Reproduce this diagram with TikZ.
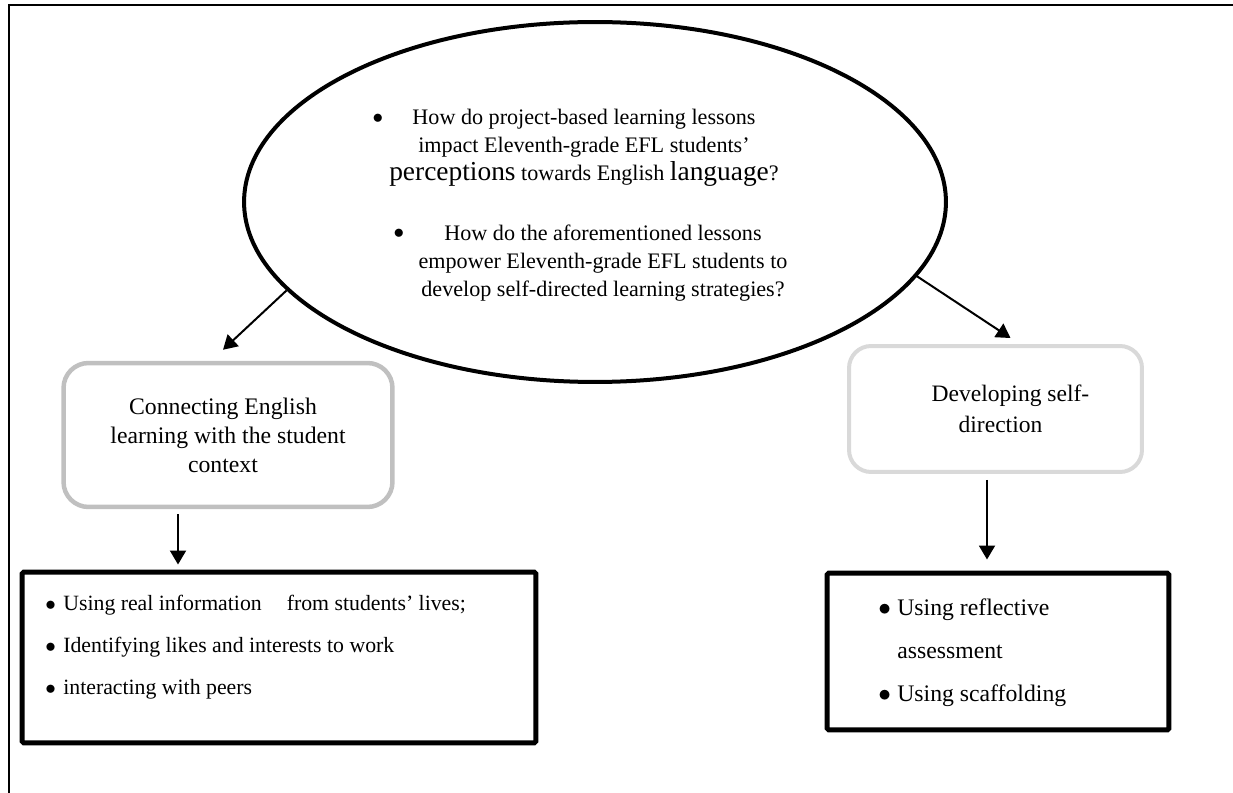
\documentclass[tikz,border=0pt]{standalone}
\usepackage{fontspec}
\setmainfont{Liberation Serif}
\usetikzlibrary{shapes.geometric,arrows.meta}
\definecolor{leftgray}{HTML}{C0C0C0}
\definecolor{rightgray}{HTML}{D9D9D9}
\newcommand{\listbullet}[1]{\makebox[#1][l]{$\bullet$}}

\begin{document}
\begin{tikzpicture}
        [x=0.02cm,y=-0.02cm,
        questiondecorate/.style={shape=ellipse,draw,line width=0.08cm,minimum width=14.04cm,minimum height=7.2cm,inner sep=0pt},%
        questiontext/.style={align=center,inner sep=0pt,font=\fontsize{12.6}{15.9}\selectfont},%
        themedecorate/.style={shape=rectangle,draw,rounded corners=0.5cm,line width=0.09cm,align=center,font=\fontsize{13.5}{16.5}\selectfont},%
        listdecorate/.style={shape=rectangle,draw,line width=0.1cm,rounded corners=1pt},%
        listtext/.style={anchor=west,align=left,inner sep=0pt,font=\fontsize{12.4}{23.9}\selectfont},%
        arrowdecorate/.style={-{Triangle[length=0.28cm,width=0.32cm]},line width=0.04cm}]
        \useasboundingbox (0,0) rectangle (1233,793);
        %% frame
        \draw[line width=0.04cm] (9,793) -- (9,5) -- (1233,5);

        %% question ellipse
        \node (question) at (595,202) [questiondecorate] {};
        \foreach \bulletname/\x/\y in {bulletone/378/119, bullettwo/399/234}
        {
          \node (\bulletname) at (\x,\y) [questiontext] {$\bullet$};
        }
        \node (questionone) at (584,148) [questiontext]
          {How do project-based learning lessons\\
           impact Eleventh-grade EFL students’\\
           {\fontsize{15.6}{15.9}\selectfont perceptions} towards English {\fontsize{15.6}{15.9}\selectfont language}?};
        \node (questiontwo) at (603,263) [questiontext]
          {How do the aforementioned lessons\\
           empower Eleventh-grade EFL students to\\
           develop self-directed learning strategies?};

        %% themes
        \node (lefttheme) at (228,435) [themedecorate,draw=leftgray,minimum width=6.58cm,minimum height=2.88cm]
          {Connecting English\hspace*{0.2cm}\\ learning with the student\hspace*{0.2cm}\\ context\hspace*{0.2cm}};
        \node (righttheme) at (995.5,409) [themedecorate,draw=rightgray,line width=0.08cm,rounded corners=0.44cm,
          minimum width=5.86cm,minimum height=2.52cm,font=\fontsize{13.4}{17.5}\selectfont]
          {\hspace*{0.6cm}Developing self-\\ \hspace*{0.2cm}direction};

        %% strategy lists
        \node (leftlist) at (279,657.5) [listdecorate,minimum width=10.28cm,minimum height=3.42cm] {};
        \node (rightlist) at (998,651.5) [listdecorate,minimum width=6.84cm,minimum height=3.14cm] {};
        \node (leftitems) at (45,647) [listtext]
          {\listbullet{0.36cm}Using real information\hspace{0.5cm}from students’ lives;\\
           \listbullet{0.36cm}Identifying likes and interests to work\\
           \listbullet{0.36cm}interacting with peers};
        \node (rightitems) at (878,653) [listtext,font=\fontsize{13.5}{24.5}\selectfont]
          {\listbullet{0.38cm}Using reflective\\
           \hspace*{0.38cm}assessment\\
           \listbullet{0.38cm}Using scaffolding};

        %% arrows
        \draw[arrowdecorate] (question.196) -- ([shift={(-5,-11)}]lefttheme.north);
        \draw[arrowdecorate] (question.347) -- ([shift={(15,-6)}]righttheme.north);
        \draw[arrowdecorate,shorten <=0.1cm,shorten >=0.1cm]
          ([xshift=-1cm]lefttheme.south) -- ([xshift=-1cm]lefttheme.south |- leftlist.north);
        \draw[arrowdecorate,shorten <=0.12cm,shorten >=0.22cm]
          ([xshift=-0.17cm]righttheme.south) -- ([xshift=-0.17cm]righttheme.south |- rightlist.north);
      \end{tikzpicture}
\end{document}
